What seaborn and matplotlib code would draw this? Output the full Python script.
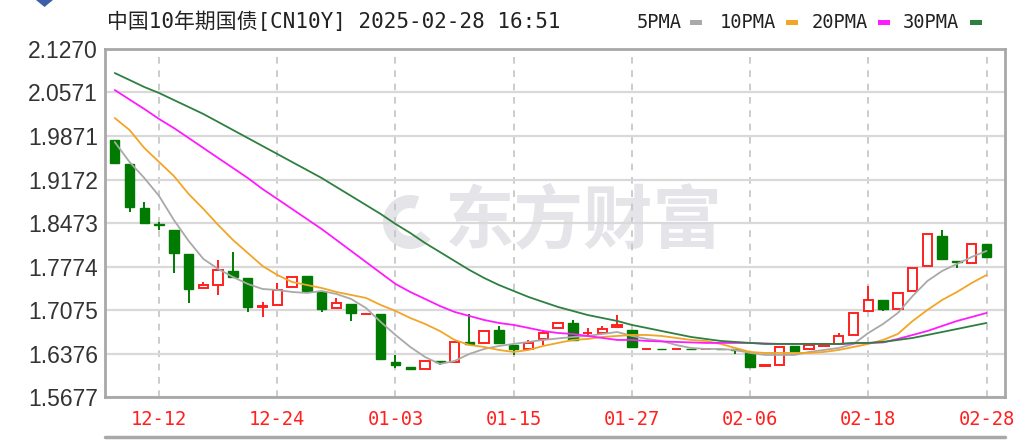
import numpy as np
import pandas as pd
import matplotlib
matplotlib.use('Agg')
import matplotlib.pyplot as plt
import seaborn as sns
from matplotlib.patches import Rectangle, Polygon, Wedge
from matplotlib.transforms import IdentityTransform

sns.set_style('white')
plt.rcParams['font.family'] = ['Liberation Sans', 'DejaVu Sans']

W, H = 1034, 440

# ---- data ----
dates = ['12-09', '12-10', '12-11', '12-12', '12-13', '12-16', '12-17', '12-18', '12-19', '12-20',
         '12-23', '12-24', '12-25', '12-26', '12-27', '12-30', '12-31', '01-01', '01-02', '01-03',
         '01-06', '01-07', '01-08', '01-09', '01-10', '01-13', '01-14', '01-15', '01-16', '01-17',
         '01-20', '01-21', '01-22', '01-23', '01-24', '01-27', '01-28', '01-29', '01-30', '01-31',
         '02-03', '02-04', '02-05', '02-06', '02-07', '02-10', '02-11', '02-12', '02-13', '02-14',
         '02-17', '02-18', '02-19', '02-20', '02-21', '02-24', '02-25', '02-26', '02-27', '02-28']

open_ = [1.9810, 1.9420, 1.8710, 1.8455, 1.8360, 1.7971, 1.7424, 1.7477, 1.7707, 1.7585,
         1.7130, 1.7156, 1.7450, 1.7622, 1.7370, 1.7103, 1.7168, 1.7003, 1.7007, 1.6245,
         1.6165, 1.6123, 1.6259, 1.6245, 1.6557, 1.6550, 1.6754, 1.6513, 1.6444, 1.6605,
         1.6782, 1.6862, 1.6700, 1.6701, 1.6808, 1.6754, 1.6444, 1.6448, 1.6444, 1.6448,
         1.6444, 1.6448, 1.6449, 1.6380, 1.6175, 1.6192, 1.6502, 1.6449, 1.6500, 1.6535,
         1.6674, 1.7060, 1.7236, 1.7092, 1.7381, 1.7783, 1.8265, 1.7870, 1.7836, 1.8137]
high = [1.9810, 1.9420, 1.8816, 1.8495, 1.8360, 1.7971, 1.7530, 1.7879, 1.8013, 1.7585,
        1.7209, 1.7505, 1.7601, 1.7622, 1.7370, 1.7264, 1.7168, 1.7010, 1.7007, 1.6353,
        1.6165, 1.6261, 1.6259, 1.6557, 1.7011, 1.6743, 1.6819, 1.6513, 1.6594, 1.6754,
        1.6862, 1.6915, 1.6787, 1.6819, 1.6995, 1.6754, 1.6448, 1.6448, 1.6448, 1.6448,
        1.6448, 1.6448, 1.6449, 1.6380, 1.6185, 1.6486, 1.6502, 1.6513, 1.6545, 1.6701,
        1.7032, 1.7461, 1.7236, 1.7354, 1.7746, 1.8292, 1.8361, 1.7870, 1.8132, 1.8137]
low = [1.9440, 1.8655, 1.8469, 1.8360, 1.7665, 1.7183, 1.7424, 1.7317, 1.7601, 1.7048,
       1.6968, 1.7156, 1.7450, 1.7381, 1.7048, 1.7103, 1.6904, 1.7003, 1.6283, 1.6139,
       1.6123, 1.6123, 1.6192, 1.6245, 1.6530, 1.6550, 1.6540, 1.6353, 1.6444, 1.6513,
       1.6782, 1.6594, 1.6674, 1.6701, 1.6808, 1.6476, 1.6444, 1.6444, 1.6444, 1.6444,
       1.6444, 1.6444, 1.6375, 1.6165, 1.6175, 1.6192, 1.6422, 1.6449, 1.6500, 1.6535,
       1.6674, 1.7060, 1.7060, 1.7092, 1.7381, 1.7783, 1.7890, 1.7746, 1.7836, 1.7923]
close = [1.9440, 1.8736, 1.8469, 1.8445, 1.7987, 1.7408, 1.7477, 1.7719, 1.7601, 1.7129,
         1.7145, 1.7397, 1.7601, 1.7381, 1.7087, 1.7183, 1.7023, 1.7010, 1.6283, 1.6192,
         1.6123, 1.6261, 1.6245, 1.6557, 1.6530, 1.6743, 1.6540, 1.6444, 1.6550, 1.6711,
         1.6862, 1.6594, 1.6712, 1.6766, 1.6835, 1.6476, 1.6448, 1.6444, 1.6448, 1.6444,
         1.6448, 1.6444, 1.6440, 1.6165, 1.6185, 1.6486, 1.6422, 1.6513, 1.6530, 1.6660,
         1.7032, 1.7236, 1.7087, 1.7354, 1.7746, 1.8292, 1.7890, 1.7850, 1.8132, 1.7923]

ma5 = [1.9775, 1.9454, 1.9197, 1.8908, 1.8522, 1.8185, 1.7895, 1.7735, 1.7606, 1.7494,
       1.7413, 1.7397, 1.7365, 1.7349, 1.7381, 1.7333, 1.7252, 1.7108, 1.6883, 1.6674,
       1.6481, 1.6320, 1.6208, 1.6256, 1.6369, 1.6449, 1.6497, 1.6530, 1.6562, 1.6594,
       1.6618, 1.6642, 1.6658, 1.6690, 1.6722, 1.6658, 1.6610, 1.6578, 1.6513, 1.6465,
       1.6449, 1.6449, 1.6433, 1.6385, 1.6353, 1.6353, 1.6353, 1.6401, 1.6433, 1.6465,
       1.6530, 1.6706, 1.6851, 1.7028, 1.7301, 1.7542, 1.7703, 1.7815, 1.7928, 1.8024]
ma10 = [2.0161, 1.9968, 1.9679, 1.9454, 1.9229, 1.8940, 1.8699, 1.8442, 1.8201, 1.7992,
        1.7783, 1.7638, 1.7526, 1.7477, 1.7429, 1.7365, 1.7317, 1.7269, 1.7156, 1.7060,
        1.6947, 1.6851, 1.6738, 1.6594, 1.6513, 1.6481, 1.6433, 1.6401, 1.6433, 1.6497,
        1.6546, 1.6594, 1.6610, 1.6642, 1.6658, 1.6674, 1.6674, 1.6658, 1.6626, 1.6594,
        1.6578, 1.6530, 1.6465, 1.6401, 1.6385, 1.6385, 1.6385, 1.6385, 1.6401, 1.6433,
        1.6481, 1.6530, 1.6594, 1.6690, 1.6899, 1.7076, 1.7237, 1.7365, 1.7510, 1.7638]
ma20 = [2.0611, 2.0458, 2.0306, 2.0145, 2.0000, 1.9840, 1.9679, 1.9518, 1.9358, 1.9197,
        1.9020, 1.8860, 1.8699, 1.8538, 1.8377, 1.8201, 1.8024, 1.7847, 1.7670, 1.7494,
        1.7365, 1.7253, 1.7140, 1.7044, 1.6979, 1.6915, 1.6867, 1.6835, 1.6787, 1.6738,
        1.6706, 1.6690, 1.6658, 1.6626, 1.6594, 1.6594, 1.6578, 1.6570, 1.6562, 1.6554,
        1.6546, 1.6546, 1.6546, 1.6546, 1.6538, 1.6530, 1.6530, 1.6530, 1.6530, 1.6530,
        1.6538, 1.6546, 1.6554, 1.6610, 1.6674, 1.6738, 1.6819, 1.6899, 1.6963, 1.7028]
ma30 = [2.0884, 2.0772, 2.0659, 2.0563, 2.0450, 2.0338, 2.0225, 2.0097, 1.9968, 1.9840,
        1.9711, 1.9583, 1.9454, 1.9326, 1.9197, 1.9052, 1.8908, 1.8763, 1.8618, 1.8458,
        1.8313, 1.8152, 1.8008, 1.7863, 1.7719, 1.7590, 1.7477, 1.7381, 1.7285, 1.7204,
        1.7124, 1.7060, 1.6995, 1.6947, 1.6899, 1.6835, 1.6787, 1.6738, 1.6690, 1.6642,
        1.6610, 1.6578, 1.6562, 1.6546, 1.6530, 1.6530, 1.6530, 1.6530, 1.6530, 1.6530,
        1.6546, 1.6546, 1.6562, 1.6594, 1.6626, 1.6674, 1.6722, 1.6770, 1.6819, 1.6867]

ma_names = ['5PMA', '10PMA', '20PMA', '30PMA']
ma_colors = ['#a9a9a9', '#f2a526', '#ff1aff', '#2e8040']
tick_labels = ['12-12', '12-24', '01-03', '01-15', '01-27', '02-06', '02-18', '02-28']
y_ticks = [1.5677, 1.6376, 1.7075, 1.7774, 1.8473, 1.9172, 1.9871, 2.0571, 2.1270]

RED = '#ff2020'
GREEN = '#007a00'

# ---- figure ----
fig = plt.figure(figsize=(W / 100, H / 100), dpi=100)
ax = fig.add_axes([105 / W, 43 / H, 900 / W, 348 / H])

x = np.arange(len(dates))
o = np.array(open_)
c = np.array(close)
hi = np.array(high)
lo = np.array(low)
up = c > o
body_lo = np.minimum(o, c)
body_hi = np.maximum(o, c)
body_h = np.maximum(body_hi - body_lo, 0.0010)
cols = np.where(up, RED, GREEN)

# wicks
ax.vlines(x, body_hi, hi, colors=cols, linewidth=1.4, zorder=2)
ax.vlines(x, lo, body_lo, colors=cols, linewidth=1.4, zorder=2)
# bodies: red hollow, green filled
ax.bar(x[up], body_h[up], bottom=body_lo[up], width=0.64, facecolor='white',
       edgecolor=RED, linewidth=1.4, zorder=2.5)
ax.bar(x[~up], body_h[~up], bottom=body_lo[~up], width=0.64, facecolor=GREEN,
       edgecolor=GREEN, linewidth=1.0, zorder=2.5)

# moving averages via seaborn
ma_df = pd.DataFrame({'i': x, '5PMA': ma5, '10PMA': ma10, '20PMA': ma20, '30PMA': ma30})
ma_long = ma_df.melt(id_vars='i', var_name='ma', value_name='val')
sns.lineplot(data=ma_long, x='i', y='val', hue='ma', hue_order=ma_names,
             palette=dict(zip(ma_names, ma_colors)), linewidth=1.3, legend=False,
             ax=ax, zorder=3)

# axes styling
ax.set_xlim(-0.66, 60.25)
ax.set_ylim(y_ticks[0], y_ticks[-1])
ax.set_yticks(y_ticks)
ax.set_yticklabels([f'{v:.4f}' for v in y_ticks], fontsize=16.5, color='#333333')
tick_pos = [dates.index(d) for d in tick_labels]
ax.set_xticks(tick_pos)
ax.set_xticklabels(tick_labels, fontsize=13.5, color='#ff2020', family='DejaVu Sans Mono')
ax.tick_params(axis='y', length=0, pad=5)
ax.tick_params(axis='x', direction='in', length=4, color='#b0b0b0', pad=9)
ax.set_xlabel('')
ax.set_ylabel('')
ax.set_axisbelow(True)
ax.grid(axis='y', color='#d9d9d9', linewidth=1.6, linestyle='-')
ax.grid(axis='x', color='#c4c4c4', linewidth=1.2, linestyle=(0, (4, 4)))
for s in ax.spines.values():
    s.set_color('#a8a8a8')
    s.set_linewidth(2)

# watermark
ax.text(445 / W, 1 - 222 / H, '东方财富', transform=fig.transFigure, fontsize=50,
        fontweight='bold', color='#e4e4e9', family='Noto Sans CJK SC',
        ha='left', va='center', zorder=0)
ax.add_patch(Wedge((410, H - 222), 27, 70, 320, width=13, transform=IdentityTransform(),
                   facecolor='#e4e4e9', edgecolor='none', zorder=0))

# title and legend
fig.text(107 / W, 1 - 22 / H, '中国10年期国债[CN10Y] 2025-02-28 16:51',
         family=['DejaVu Sans Mono', 'Noto Sans CJK SC'], fontsize=15,
         color='#222222', ha='left', va='center')
leg_text_x = [637, 720, 812, 903]
leg_box_x = [690, 786, 878, 970]
for name, col, tx, bx in zip(ma_names, ma_colors, leg_text_x, leg_box_x):
    fig.text(tx / W, 1 - 23 / H, name, family='DejaVu Sans Mono', fontsize=13.5,
             color='#222222', ha='left', va='center')
    fig.patches.append(Rectangle((bx / W, 1 - 25 / H), 12 / W, 5 / H,
                                 transform=fig.transFigure, facecolor=col, edgecolor='none'))

# bottom frame line and small blue marker
fig.add_artist(plt.Line2D([105 / W, 1005 / W], [1 - 437 / H, 1 - 437 / H],
                          transform=fig.transFigure, color='#a8a8a8', linewidth=2.5))
fig.patches.append(Polygon([(36 / W, 1.0), (53 / W, 1.0), (44.5 / W, 1 - 7 / H)],
                           closed=True, transform=fig.transFigure,
                           facecolor='#3d5fa8', edgecolor='none'))

fig.savefig('out.png', dpi=100, facecolor='white')
